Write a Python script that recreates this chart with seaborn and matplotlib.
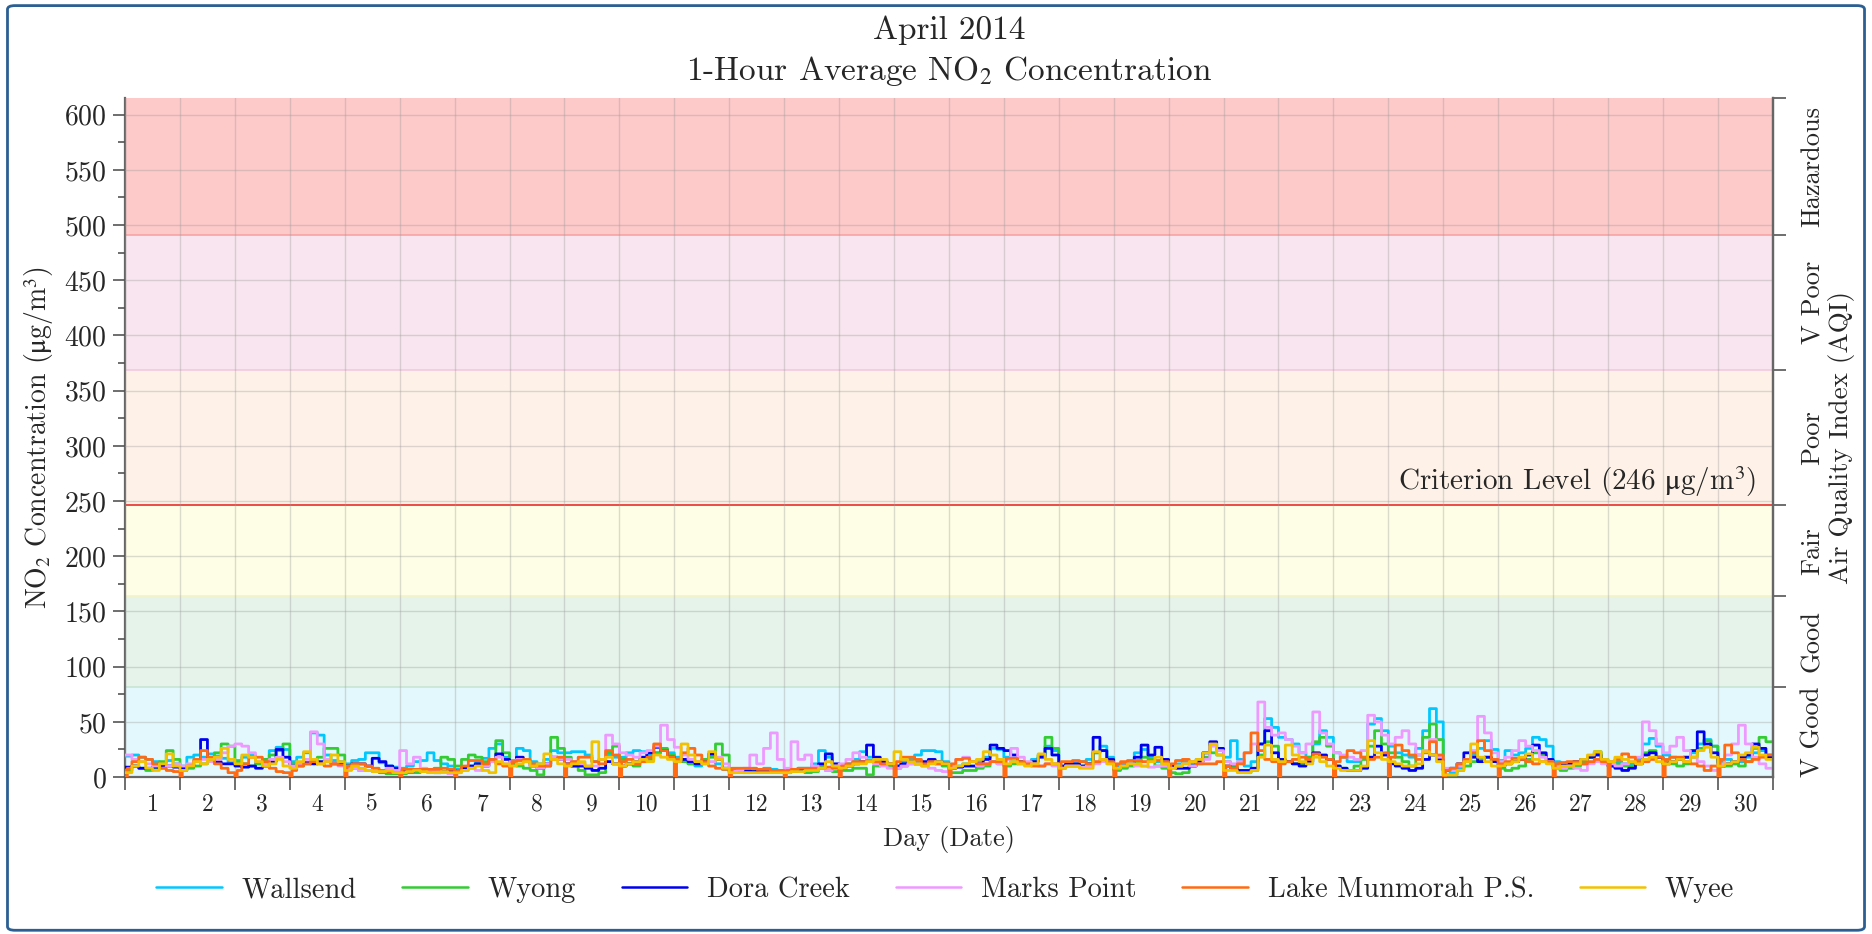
import numpy as np
import pandas as pd
import matplotlib
matplotlib.use("Agg")
import matplotlib.pyplot as plt
import seaborn as sns
from matplotlib.patches import FancyBboxPatch

# Estaciones y colores
stations = ["Wallsend", "Wyong", "Dora Creek", "Marks Point", "Lake Munmorah P.S.", "Wyee"]
colors = ["#00c8ff", "#33cc33", "#0000ee", "#ee99ff", "#ff6a13", "#f2c200"]

# Valores: 8 lecturas (cada 3 h) por día, 30 días, µg/m³
wallsend = [
    19, 20, 18, 16, 14, 13, 15, 12,  10, 18, 20, 18, 21, 19, 17, 13,  15, 18, 20, 12, 16, 24, 27, 25,
    14, 18, 22, 40, 38, 20, 15, 14,  12, 15, 16, 22, 22, 13, 10, 9,   8, 10, 14, 15, 22, 15, 12, 10,
    7, 8, 10, 14, 17, 26, 30, 18,    15, 26, 24, 14, 12, 16, 24, 22,  22, 23, 23, 20, 14, 16, 20, 18,
    18, 22, 24, 23, 20, 22, 25, 22,  18, 16, 12, 10, 14, 20, 12, 7,   4, 5, 6, 6, 7, 8, 7, 6,
    6, 7, 8, 8, 12, 24, 18, 10,      10, 12, 16, 23, 18, 14, 12, 10,  10, 14, 16, 20, 24, 24, 23, 14,
    8, 10, 12, 14, 15, 18, 26, 25,   18, 14, 12, 12, 16, 20, 28, 24,  10, 12, 12, 14, 16, 22, 28, 18,
    10, 12, 12, 22, 25, 18, 14, 12,  10, 12, 14, 12, 16, 22, 30, 24,  18, 33, 16, 10, 14, 30, 53, 45,
    36, 34, 30, 22, 18, 30, 42, 36,  22, 18, 14, 14, 18, 48, 53, 42,  28, 22, 20, 18, 26, 42, 62, 50,
    6, 4, 8, 14, 20, 26, 33, 25,     15, 24, 20, 22, 26, 36, 34, 28,  14, 13, 12, 14, 12, 18, 22, 16,
    12, 14, 12, 12, 16, 30, 35, 28,  20, 18, 16, 18, 22, 30, 34, 28,  14, 16, 12, 14, 18, 22, 24, 20,
]
wyong = [
    6, 10, 8, 6, 8, 14, 24, 16,      6, 8, 10, 12, 16, 22, 30, 28,    14, 12, 10, 12, 16, 20, 24, 30,
    12, 10, 12, 14, 18, 26, 26, 20,  10, 8, 6, 6, 5, 4, 3, 3,         3, 4, 4, 5, 6, 8, 18, 16,
    10, 16, 20, 18, 14, 16, 33, 22,  12, 10, 8, 6, 2, 10, 36, 26,     18, 10, 6, 2, 2, 4, 22, 28,
    16, 12, 10, 14, 16, 22, 26, 20,  16, 14, 12, 14, 16, 18, 30, 20,  6, 5, 4, 5, 6, 6, 5, 5,
    4, 5, 6, 4, 5, 10, 6, 5,         6, 6, 8, 8, 2, 10, 12, 10,       8, 10, 12, 14, 12, 14, 12, 10,
    4, 4, 6, 6, 8, 10, 14, 12,       10, 12, 14, 12, 14, 20, 36, 26,  8, 10, 10, 10, 12, 22, 24, 16,
    6, 8, 10, 14, 18, 16, 10, 8,     4, 3, 4, 10, 14, 18, 22, 20,     14, 10, 5, 4, 6, 20, 32, 28,
    16, 14, 12, 12, 18, 32, 36, 28,  10, 8, 6, 10, 16, 28, 42, 30,    22, 18, 14, 10, 20, 36, 48, 34,
    2, 2, 6, 10, 14, 16, 18, 14,     8, 6, 8, 10, 16, 22, 20, 14,     8, 6, 8, 10, 14, 18, 23, 14,
    10, 12, 10, 10, 14, 22, 24, 18,  14, 12, 10, 12, 18, 26, 33, 28,  12, 10, 12, 10, 14, 26, 36, 32,
]
dora_creek = [
    9, 10, 8, 8, 9, 10, 10, 9,       8, 10, 14, 34, 16, 14, 12, 12,   10, 9, 10, 8, 10, 14, 25, 18,
    10, 12, 13, 12, 14, 14, 12, 12,  10, 12, 12, 10, 17, 14, 10, 8,   6, 5, 6, 6, 5, 4, 5, 6,
    6, 8, 10, 12, 10, 14, 21, 16,    14, 18, 14, 10, 8, 12, 18, 16,   12, 10, 10, 8, 6, 8, 14, 12,
    10, 12, 14, 18, 22, 27, 24, 18,  14, 16, 14, 12, 14, 21, 16, 8,   5, 6, 6, 5, 6, 6, 5, 5,
    5, 6, 6, 7, 8, 12, 21, 12,       8, 10, 12, 14, 29, 18, 14, 12,   10, 12, 14, 12, 14, 16, 14, 12,
    8, 9, 10, 10, 12, 16, 29, 26,    24, 20, 14, 12, 14, 18, 26, 20,  10, 12, 12, 10, 12, 36, 24, 16,
    8, 10, 12, 18, 29, 20, 27, 16,   10, 8, 8, 10, 14, 22, 32, 26,    10, 8, 6, 6, 8, 30, 42, 22,
    16, 14, 12, 10, 14, 22, 20, 16,  10, 8, 6, 6, 8, 18, 28, 20,      12, 10, 8, 6, 8, 16, 20, 16,
    6, 8, 12, 22, 18, 14, 18, 14,    10, 12, 14, 16, 20, 29, 22, 16,  10, 12, 12, 14, 16, 18, 20, 14,
    10, 8, 6, 8, 12, 20, 22, 18,     12, 14, 16, 18, 24, 41, 30, 22,  10, 12, 14, 18, 20, 30, 26, 18,
]
marks_point = [
    20, 16, 14, 12, 10, 8, 10, 12,   10, 12, 14, 16, 14, 16, 22, 28,  30, 28, 22, 14, 12, 16, 18, 14,
    10, 12, 16, 41, 30, 16, 12, 10,  8, 8, 6, 6, 5, 6, 8, 6,          24, 12, 18, 8, 6, 5, 4, 3,
    4, 6, 8, 6, 10, 14, 18, 12,      14, 16, 14, 10, 8, 12, 18, 16,   16, 14, 12, 10, 10, 16, 38, 30,
    22, 20, 18, 22, 24, 28, 47, 34,  27, 20, 16, 14, 12, 14, 18, 12,  5, 6, 8, 20, 12, 26, 40, 16,
    8, 32, 16, 20, 10, 8, 6, 10,     12, 16, 22, 18, 14, 12, 10, 8,   8, 10, 12, 12, 10, 8, 6, 5,
    10, 16, 18, 14, 10, 12, 14, 12,  16, 26, 18, 14, 12, 10, 12, 10,  8, 10, 10, 9, 10, 12, 14, 12,
    8, 10, 12, 10, 10, 9, 10, 10,    8, 10, 12, 10, 12, 16, 28, 24,   14, 12, 14, 22, 30, 68, 45, 38,
    40, 34, 28, 22, 30, 59, 40, 30,  22, 20, 18, 16, 24, 56, 50, 38,  30, 36, 42, 30, 20, 24, 34, 18,
    8, 6, 10, 14, 24, 55, 40, 22,    14, 18, 24, 33, 28, 24, 18, 14,  10, 8, 10, 8, 6, 12, 14, 12,
    12, 10, 12, 14, 18, 50, 42, 30,  22, 28, 36, 24, 18, 14, 10, 6,   12, 20, 30, 47, 30, 18, 12, 8,
]
lake_munmorah = [
    8, 14, 18, 16, 12, 8, 6, 5,      6, 10, 16, 24, 18, 12, 8, 4,     6, 12, 18, 18, 14, 8, 5, 4,
    6, 10, 12, 14, 12, 10, 12, 11,   10, 12, 12, 10, 8, 6, 5, 4,      7, 7, 7, 7, 7, 7, 8, 7,
    6, 10, 15, 15, 12, 16, 12, 10,   14, 15, 16, 12, 10, 10, 16, 18,  12, 14, 18, 18, 14, 12, 24, 20,
    14, 16, 12, 14, 18, 30, 24, 18,  16, 22, 26, 20, 14, 10, 8, 7,    8, 8, 8, 8, 7, 7, 6, 6,
    6, 7, 8, 8, 8, 8, 9, 8,          10, 12, 14, 14, 15, 14, 12, 12,  14, 18, 18, 16, 12, 14, 12, 12,
    12, 16, 17, 14, 12, 12, 14, 14,  17, 17, 14, 12, 10, 10, 12, 12,  14, 14, 15, 14, 12, 14, 16, 14,
    12, 14, 15, 15, 14, 14, 15, 14,  12, 15, 16, 14, 12, 12, 12, 14,  10, 8, 12, 22, 40, 24, 16, 14,
    12, 14, 16, 18, 16, 21, 18, 16,  14, 18, 24, 22, 18, 16, 18, 22,  18, 29, 24, 20, 16, 22, 32, 20,
    6, 8, 12, 16, 22, 33, 24, 16,    12, 14, 17, 16, 14, 12, 14, 14,  12, 13, 14, 14, 12, 14, 16, 14,
    14, 16, 21, 18, 14, 14, 16, 18,  16, 18, 18, 14, 12, 10, 6, 10,   16, 29, 22, 16, 14, 16, 18, 20,
]
wyee = [
    4, 10, 14, 8, 6, 12, 21, 10,     6, 10, 14, 12, 16, 18, 26, 16,   12, 20, 18, 14, 10, 12, 16, 10,
    8, 14, 23, 16, 12, 14, 20, 14,   6, 10, 8, 6, 5, 5, 6, 4,         4, 5, 6, 5, 4, 4, 5, 4,
    4, 6, 8, 10, 6, 4, 14, 12,       10, 12, 14, 10, 12, 21, 16, 12,  10, 12, 14, 10, 32, 16, 18, 12,
    10, 12, 14, 16, 14, 20, 18, 16,  14, 30, 20, 14, 12, 23, 16, 8,   4, 4, 4, 4, 4, 4, 4, 4,
    4, 5, 5, 6, 6, 8, 14, 10,        8, 10, 12, 12, 14, 16, 16, 12,   23, 16, 14, 12, 10, 12, 14, 12,
    8, 10, 12, 14, 16, 23, 20, 16,   12, 14, 12, 10, 12, 21, 16, 12,  8, 10, 10, 8, 8, 23, 16, 12,
    8, 10, 12, 12, 10, 14, 18, 12,   8, 10, 12, 14, 16, 22, 30, 20,   6, 6, 4, 4, 6, 18, 29, 16,
    14, 29, 20, 14, 12, 18, 14, 10,  8, 6, 6, 6, 10, 33, 22, 16,      14, 12, 10, 10, 12, 23, 20, 14,
    2, 2, 6, 14, 30, 18, 14, 10,     10, 12, 14, 18, 21, 16, 14, 12,  8, 10, 10, 12, 16, 20, 23, 16,
    14, 18, 16, 14, 12, 16, 18, 14,  12, 14, 16, 14, 18, 24, 27, 18,  10, 12, 14, 20, 22, 27, 20, 16,
]
# Lake Munmorah cae a 0 a medianoche (días con la caída)
munmorah_dip_days = [1, 2, 3, 4, 5, 6, 7, 8, 9, 10, 11, 12, 13, 14, 15,
                     16, 17, 18, 19, 20, 21, 22, 23, 24, 25, 26, 27, 28, 29, 30]

# Bandas del índice de calidad del aire (µg/m³)
aqi_labels = ["V Good", "Good", "Fair", "Poor", "V Poor", "Hazardous"]
aqi_bounds = [0, 82, 164, 246, 369, 491, 615]
aqi_colors = ["#e3f8fc", "#e6f3ea", "#fefee6", "#fef2e8", "#f9e5ef", "#fdc9c9"]
aqi_edges = ["#c6eef7", "#c9e5d2", "#f4f4c8", "#f8ddd0", "#f3c9de", "#f7a3a3"]
criterion = 246

day_labels = [str(d) for d in range(1, 31)]

series = [wallsend, wyong, dora_creek, marks_point, lake_munmorah, wyee]

# Construir tabla larga (valores horarios en escalones de 3 h)
frames = []
for name, vals in zip(stations, series):
    hourly = np.repeat(np.array(vals, dtype=float), 3)
    if name == "Lake Munmorah P.S.":
        for d in munmorah_dip_days:
            hourly[(d - 1) * 24] = 0
    hourly = np.append(hourly, hourly[-1])
    frames.append(pd.DataFrame({"day": np.arange(len(hourly)) / 24.0,
                                "value": hourly, "station": name}))
df = pd.concat(frames, ignore_index=True)

sns.set_theme(style="ticks")
plt.rcParams["font.family"] = ["cmr10", "DejaVu Serif"]
plt.rcParams["mathtext.fontset"] = "stix"
plt.rcParams["axes.formatter.use_mathtext"] = True
plt.rcParams["axes.unicode_minus"] = False

UNIT = r"$\mathrm{\mu}$g/m$^3$"

fig = plt.figure(figsize=(18.72, 9.34), dpi=100)
ax = fig.add_axes([0.0668, 0.168, 0.947 - 0.0668, 0.895 - 0.168])

# Bandas de fondo
for i in range(len(aqi_labels)):
    ax.axhspan(aqi_bounds[i], aqi_bounds[i + 1], color=aqi_colors[i], lw=0, zorder=0)
    if i > 0:
        ax.axhline(aqi_bounds[i], color=aqi_edges[i], lw=1.2, zorder=0.5)

ax.set_xlim(0, 30)
ax.set_ylim(0, 615)
ax.set_xticks(np.arange(0, 31))
ax.set_xticklabels([])
ax.set_xticks(np.arange(30) + 0.5, minor=True)
ax.set_xticklabels(day_labels, minor=True, fontsize=17)
ax.set_yticks(np.arange(0, 601, 50))
ax.set_yticks(np.arange(25, 615, 50), minor=True)
ax.tick_params(axis="y", which="major", labelsize=20, length=9, width=1.2, color="#555555", direction="out", pad=4)
ax.tick_params(axis="y", which="minor", length=5, width=1.2, color="#555555")
ax.tick_params(axis="x", which="major", length=9, width=1.2, color="#555555", direction="out")
ax.tick_params(axis="x", which="minor", length=0, pad=12)
ax.grid(True, which="major", color="#9a9a9a", alpha=0.35, lw=1, zorder=1)
ax.set_axisbelow(False)

sns.lineplot(data=df, x="day", y="value", hue="station", hue_order=stations,
             palette=dict(zip(stations, colors)), estimator=None, ax=ax,
             drawstyle="steps-post", lw=2.0, zorder=3)

ax.axhline(criterion, color="#e8342e", lw=1.2, zorder=2)
ax.text(29.7, criterion + 6, "Criterion Level (246 " + UNIT + ")", ha="right", va="bottom", fontsize=21)

for side in ["left", "bottom", "right"]:
    ax.spines[side].set_color("#666666")
    ax.spines[side].set_linewidth(1.6)
ax.spines["top"].set_visible(False)

ax.set_xlabel("Day (Date)", fontsize=19, labelpad=7)
ax.set_ylabel("NO$_2$ Concentration (" + UNIT + ")", fontsize=20, labelpad=6)

# Eje derecho con las categorías AQI
ax2 = ax.twinx()
ax2.set_ylim(0, 615)
ax2.set_yticks(aqi_bounds[1:])
ax2.set_yticklabels([])
centers = [(aqi_bounds[i] + aqi_bounds[i + 1]) / 2 for i in range(len(aqi_labels))]
ax2.set_yticks(centers, minor=True)
ax2.set_yticklabels(aqi_labels, minor=True, rotation=90, va="center", fontsize=19)
ax2.tick_params(axis="y", which="major", length=9, width=1.2, color="#555555")
ax2.tick_params(axis="y", which="minor", length=0, pad=20)
ax2.grid(False)
for side in ["top", "left", "bottom"]:
    ax2.spines[side].set_visible(False)
ax2.spines["right"].set_color("#666666")
ax2.spines["right"].set_linewidth(1.6)
ax2.set_ylabel("Air Quality Index (AQI)", fontsize=19.5, labelpad=3)

# Título
fig.text(0.507, 0.968, "April 2014", ha="center", va="center", fontsize=24)
fig.text(0.507, 0.924, "1-Hour Average NO$_2$ Concentration", ha="center", va="center", fontsize=24)

# Leyenda
handles, labels = ax.get_legend_handles_labels()
ax.get_legend().remove()
leg = fig.legend(handles, labels, loc="center", bbox_to_anchor=(0.505, 0.047), ncol=6,
                 frameon=False, fontsize=20.5, handlelength=2.3, columnspacing=1.6, handletextpad=0.7)
for h in leg.get_lines():
    h.set_linewidth(1.8)

# Marco de la figura
frame = FancyBboxPatch((0.004, 0.004), 0.992, 0.99, boxstyle="round,pad=0,rounding_size=0.004",
                       transform=fig.transFigure, fill=False, edgecolor="#2b5f93", lw=2)
fig.patches.append(frame)

fig.savefig("out.png", dpi=100)
